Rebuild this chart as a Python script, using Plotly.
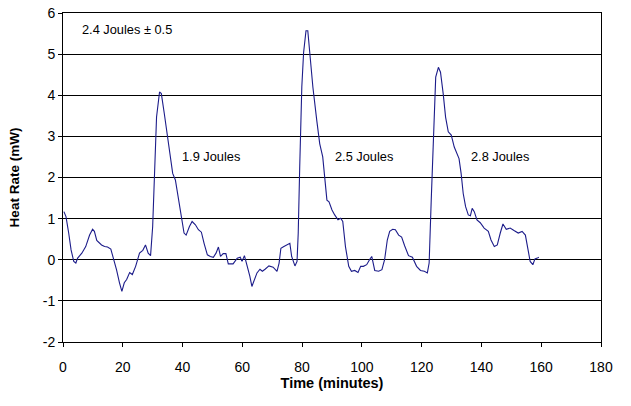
import plotly.graph_objects as go

time_min = [0.3, 1.0, 1.9, 2.7, 3.6, 4.3, 4.9, 6.3, 7.6, 8.9, 9.9, 10.5, 11.3, 12.9, 13.9, 14.9, 16.0, 16.9,
            17.9, 18.9, 19.7, 20.5, 21.3, 22.3, 23.2, 24.3, 25.6, 26.7, 27.6, 28.5, 29.3, 30.0, 30.7, 31.3,
            32.3, 32.9, 33.9, 34.9, 36.0, 36.7, 37.6, 38.7, 39.6, 40.5, 41.2, 42.3, 43.2, 44.3, 45.3, 46.3,
            47.2, 48.3, 49.3, 50.3, 51.2, 52.0, 52.7, 53.6, 54.5, 55.3, 56.9, 58.3, 59.3, 59.9, 60.7, 61.6,
            62.5, 63.2, 64.0, 64.9, 65.9, 66.7, 67.6, 68.9, 70.3, 71.6, 72.3, 72.9, 73.9, 74.9, 75.9, 76.5,
            77.6, 78.3, 78.7, 79.2, 79.9, 80.5, 81.3, 81.9, 82.7, 83.6, 84.9, 85.9, 86.9, 87.6, 88.3, 89.0,
            90.0, 90.9, 92.0, 92.9, 93.6, 94.5, 95.6, 96.5, 97.6, 98.7, 99.6, 100.5, 101.6, 102.7, 103.3,
            104.3, 105.6, 106.7, 107.6, 108.5, 109.3, 110.3, 111.2, 112.3, 113.3, 114.3, 115.6, 116.9,
            118.3, 119.6, 120.9, 121.9, 122.5, 123.2, 123.9, 124.7, 125.6, 126.3, 127.2, 128.0, 128.9,
            129.9, 130.9, 132.0, 132.5, 133.2, 133.9, 134.7, 135.6, 136.3, 136.9, 137.6, 138.5, 139.6,
            140.9, 142.3, 143.2, 144.3, 145.3, 146.3, 147.2, 148.3, 149.6, 150.9, 152.3, 153.6, 154.7,
            155.6, 156.3, 157.2, 157.9, 158.7, 159.2]
heat_rate_mw = [1.17, 1.05, 0.65, 0.24, -0.04, -0.08, 0.04, 0.16, 0.32, 0.60, 0.74, 0.69, 0.47, 0.36, 0.32, 0.31, 0.26, 0.04,
                -0.24, -0.56, -0.77, -0.56, -0.48, -0.31, -0.36, -0.16, 0.16, 0.23, 0.36, 0.16, 0.10, 0.81, 2.10, 3.47,
                4.08, 4.04, 3.55, 2.99, 2.42, 2.10, 1.94, 1.45, 1.05, 0.65, 0.60, 0.81, 0.93, 0.85, 0.73, 0.67,
                0.40, 0.12, 0.08, 0.06, 0.16, 0.31, 0.08, 0.15, 0.15, -0.10, -0.10, 0.04, 0.06, -0.04, 0.10, -0.12,
                -0.40, -0.65, -0.48, -0.32, -0.23, -0.28, -0.23, -0.15, -0.18, -0.28, -0.08, 0.28, 0.32, 0.36, 0.40, 0.08,
                -0.15, -0.04, 0.65, 2.26, 4.20, 5.04, 5.57, 5.57, 4.92, 4.20, 3.39, 2.82, 2.50, 1.94, 1.45, 1.41,
                1.21, 1.09, 0.97, 1.01, 0.93, 0.32, -0.16, -0.28, -0.26, -0.31, -0.16, -0.16, -0.12, 0.02, 0.08,
                -0.26, -0.28, -0.24, 0.00, 0.48, 0.69, 0.74, 0.73, 0.60, 0.55, 0.34, 0.10, 0.06,
                -0.16, -0.26, -0.28, -0.32, -0.08, 1.45, 3.07, 4.44, 4.68, 4.56, 4.04, 3.47, 3.11,
                3.03, 2.74, 2.54, 2.46, 2.10, 1.61, 1.29, 1.09, 1.07, 1.25, 1.17, 0.97, 0.90,
                0.77, 0.69, 0.48, 0.32, 0.36, 0.65, 0.87, 0.74, 0.77, 0.71, 0.65, 0.69, 0.60,
                0.24, -0.04, -0.12, 0.02, 0.04, 0.06]

label_texts = ["2.4 Joules \u00b1 0.5", "1.9 Joules", "2.5 Joules", "2.8 Joules"]
label_x = [5.7, 49.5, 100.7, 146.2]
label_y = [5.59, 2.5, 2.5, 2.5]
label_anchor = ["left", "center", "center", "center"]

x_ticks = [0, 20, 40, 60, 80, 100, 120, 140, 160, 180]
y_ticks = [-2, -1, 0, 1, 2, 3, 4, 5, 6]
y_tick_text = ["-2", "-1", "0", "1", "2", "3", "4", "5", "6"]

FONT = "Liberation Sans, Arial, sans-serif"

fig = go.Figure()
fig.add_trace(go.Scatter(x=time_min, y=heat_rate_mw, mode="lines",
                         line=dict(color="#1c1c8a", width=1.1), showlegend=False))

for t, x, y, a in zip(label_texts, label_x, label_y, label_anchor):
    fig.add_annotation(x=x, y=y, text=t, showarrow=False, xanchor=a, yanchor="middle",
                       font=dict(family=FONT, size=12.8, color="black"))

fig.update_layout(
    width=631, height=406,
    margin=dict(l=63, r=30, t=13, b=64, autoexpand=False),
    paper_bgcolor="white", plot_bgcolor="white",
    font=dict(family=FONT, color="black"),
    xaxis=dict(range=[0, 180], tickvals=x_ticks, showgrid=False, zeroline=False, automargin=False,
               showline=True, linecolor="black", linewidth=1, mirror=True,
               ticks="outside", ticklen=4, tickcolor="black", ticklabelstandoff=8,
               tickfont=dict(family=FONT, size=14),
               title=dict(text="<b>Time (minutes)</b>", font=dict(family=FONT, size=14.5), standoff=4)),
    yaxis=dict(range=[-2, 6], tickvals=y_ticks, ticktext=y_tick_text, showgrid=True, gridcolor="black", gridwidth=1,
               zeroline=False, showline=True, linecolor="black", linewidth=1, mirror=True, automargin=False,
               ticks="outside", ticklen=4, tickcolor="black",
               tickfont=dict(family=FONT, size=14),
               title=dict(text="<b>Heat Rate (mW)</b>", font=dict(family=FONT, size=13.5), standoff=20)),
)

# remove the browser's default 8px body margin so the figure sits at the page origin
fig.write_html("out.html", config={"displayModeBar": False},
               post_script="document.body.style.margin='0';")
